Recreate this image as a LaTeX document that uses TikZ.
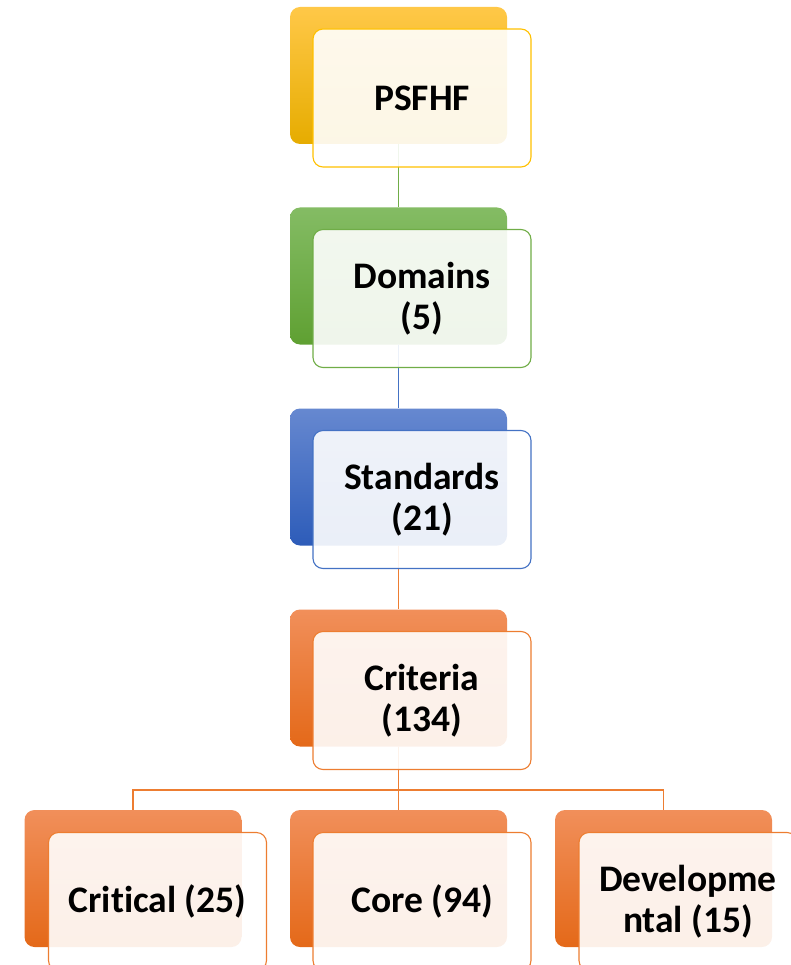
\documentclass[tikz,border=0pt]{standalone}
\usepackage{fontspec}
\setmainfont[Ligatures=NoCommon]{Carlito}
\begin{document}
\begin{tikzpicture}[x=1pt,y=-1pt,
  backbox/.style={rounded corners=10pt, minimum width=217pt, minimum height=137pt,
    inner sep=0pt, draw=none},
  frontbox/.style={rounded corners=10pt, minimum width=218pt, minimum height=138pt,
    inner sep=1pt, fill=white, fill opacity=0.9, text opacity=1, line width=1.1pt,
    align=center, font=\fontsize{37.5}{41}\selectfont\bfseries, text=black},
  link/.style={line width=1.3pt},
  yshade/.style={top color=ylwA, middle color=ylwB, bottom color=ylwC},
  gshade/.style={top color=grnA, middle color=grnB, bottom color=grnC},
  bshade/.style={top color=bluA, middle color=bluB, bottom color=bluC},
  oshade/.style={top color=orgA, middle color=orgB, bottom color=orgC},
]
\definecolor{ylwA}{RGB}{255,200,72}
\definecolor{ylwB}{RGB}{255,192,0}
\definecolor{ylwC}{RGB}{230,172,0}
\definecolor{ylw}{RGB}{255,192,0}
\definecolor{grnA}{RGB}{132,188,100}
\definecolor{grnB}{RGB}{112,173,71}
\definecolor{grnC}{RGB}{95,160,50}
\definecolor{grn}{RGB}{112,173,71}
\definecolor{bluA}{RGB}{102,136,208}
\definecolor{bluB}{RGB}{68,114,196}
\definecolor{bluC}{RGB}{45,92,185}
\definecolor{blu}{RGB}{68,114,196}
\definecolor{orgA}{RGB}{241,143,90}
\definecolor{orgB}{RGB}{240,125,40}
\definecolor{orgC}{RGB}{228,105,25}
\definecolor{org}{RGB}{237,125,49}

\useasboundingbox (0,0) rectangle (790,965);

% back boxes
\node[backbox, yshade] (b1) at (398.5,75.5) {};
\node[backbox, gshade] (b2) at (398.5,276) {};
\node[backbox, bshade] (b3) at (398.5,477) {};
\node[backbox, oshade] (b4) at (398.5,678) {};
\node[backbox, oshade] (b5) at (133,878.5) {};
\node[backbox, oshade] (b6) at (398.5,878.5) {};
\node[backbox, oshade] (b7) at (663.5,878.5) {};

% connectors
\coordinate (split) at (398.5,790);
\draw[link, grn] (b1.south) -- (b2.north);
\draw[link, blu] (b2.south) -- (b3.north);
\draw[link, org] (b3.south) -- (b4.north);
\draw[link, org] (b4.south) -- (split) -| (b5.north);
\draw[link, org] (split) -- (b6.north);
\draw[link, org] (split) -| (b7.north);

% front boxes
\node[frontbox, draw=ylw] (f1) at (422,98) {PSFHF};
\node[frontbox, draw=grn] (f2) at (422,298.5) {Domains\\(5)};
\node[frontbox, draw=blu] (f3) at (422,499.5) {Standards\\(21)};
\node[frontbox, draw=org] (f4) at (422,700.5) {Criteria\\(134)};
\node[frontbox, draw=org] (f5) at (157.5,901.5) {Critical (25)};
\node[frontbox, draw=org] (f6) at (422,901.5) {Core (94)};
\node[frontbox, draw=org] (f7) at (688,901.5) {Developme\\ntal (15)};
\end{tikzpicture}
\end{document}
